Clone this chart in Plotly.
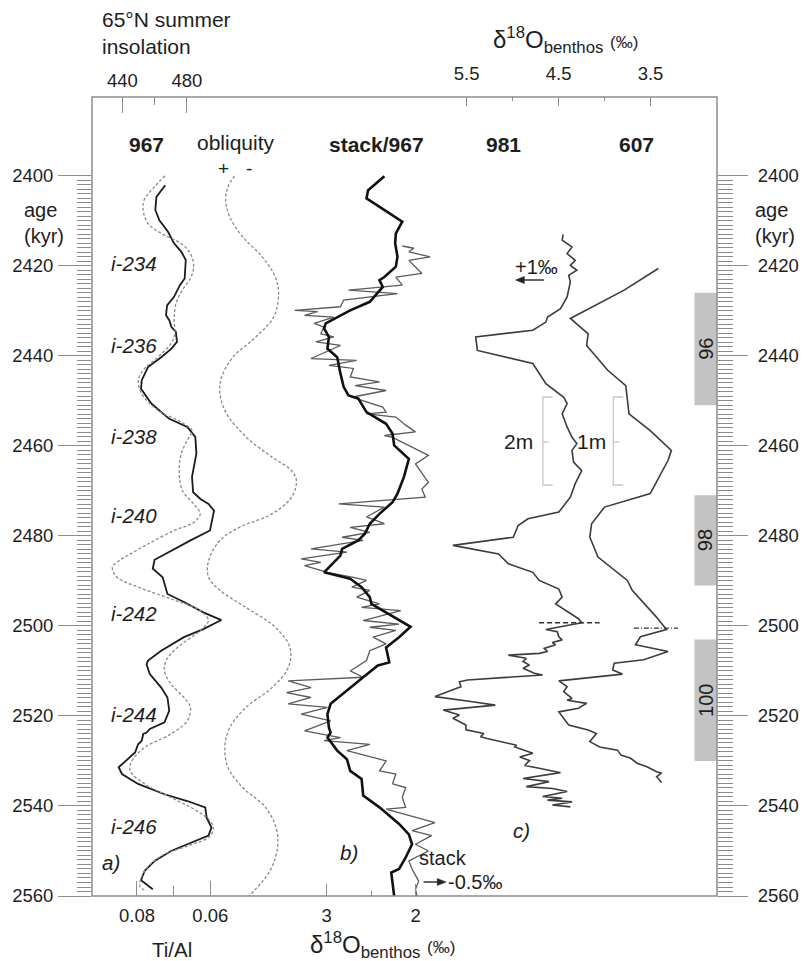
import plotly.graph_objects as go

# ---------------- data ----------------
# (a) ODP 967 Ti/Al (black) vs age (kyr)
tial_age = [2402.1, 2404.7, 2407.6, 2409.9, 2412.5, 2415.0, 2416.9, 2418.7, 2422.8, 2424.3,
            2426.9, 2428.8, 2431.0, 2432.1, 2433.6, 2434.7, 2436.9, 2438.4, 2440.3, 2442.5,
            2445.4, 2447.3, 2450.6, 2454.0, 2455.8, 2458.0, 2461.7, 2464.7, 2466.9, 2470.3,
            2471.8, 2472.9, 2474.4, 2478.8, 2481.0, 2485.3, 2487.3, 2489.2, 2492.9, 2494.7,
            2497.0, 2498.7, 2500.7, 2502.5, 2505.5, 2507.7, 2508.5, 2510.7, 2513.7, 2515.9,
            2518.8, 2521.4, 2522.9, 2523.7, 2524.0, 2525.5, 2526.3, 2528.1, 2530.0, 2531.4,
            2532.9, 2535.1, 2537.4, 2538.9, 2540.3, 2542.6, 2544.8, 2546.6, 2548.5, 2550.0,
            2552.2, 2554.4, 2555.2, 2556.5, 2558.5]
tial_val = [0.0723, 0.0747, 0.0750, 0.0739, 0.0715, 0.0699, 0.0679, 0.0667, 0.0670, 0.0683,
            0.0699, 0.0718, 0.0721, 0.0712, 0.0706, 0.0694, 0.0691, 0.0706, 0.0734, 0.0770,
            0.0787, 0.0789, 0.0761, 0.0712, 0.0663, 0.0641, 0.0638, 0.0645, 0.0650, 0.0647,
            0.0627, 0.0605, 0.0590, 0.0601, 0.0654, 0.0752, 0.0757, 0.0730, 0.0717, 0.0672,
            0.0619, 0.0570, 0.0619, 0.0672, 0.0734, 0.0770, 0.0774, 0.0765, 0.0734, 0.0717,
            0.0712, 0.0725, 0.0765, 0.0774, 0.0783, 0.0787, 0.0797, 0.0805, 0.0832, 0.0850,
            0.0841, 0.0797, 0.0725, 0.0663, 0.0614, 0.0610, 0.0597, 0.0605, 0.0663, 0.0707,
            0.0752, 0.0779, 0.0783, 0.0789, 0.0757]

# (a) 65N summer insolation (W/m2)
ins_age = [2400.0, 2402.4, 2405.4, 2407.6, 2410.6, 2412.8, 2415.0, 2417.3, 2420.2, 2422.8,
           2425.4, 2428.4, 2432.1, 2435.1, 2437.3, 2440.3, 2443.2, 2445.4, 2448.4, 2452.1,
           2454.7, 2456.6, 2458.8, 2461.7, 2465.5, 2469.9, 2472.9, 2475.1, 2477.0, 2478.8,
           2481.8, 2484.0, 2485.5, 2487.0, 2489.2, 2491.4, 2494.0, 2496.6, 2498.8, 2501.0,
           2504.8, 2507.7, 2510.0, 2512.9, 2515.9, 2518.1, 2521.1, 2524.0, 2527.0, 2530.0,
           2532.2, 2535.1, 2538.1, 2541.1, 2543.3, 2545.2, 2547.0, 2548.9, 2551.1, 2554.4,
           2557.8, 2558.9]
ins_val = [466.5, 460.0, 453.5, 452.9, 455.9, 464.1, 476.2, 482.2, 484.2, 482.2,
           477.2, 473.2, 472.1, 472.5, 470.1, 462.0, 452.9, 449.9, 451.9, 462.0,
           476.2, 483.2, 480.2, 476.5, 475.2, 477.2, 484.2, 488.3, 484.2, 472.1,
           455.9, 445.0, 438.0, 433.8, 436.8, 449.9, 470.1, 488.3, 493.3, 488.3,
           474.1, 467.1, 466.1, 470.1, 478.2, 482.2, 480.2, 470.1, 453.9, 445.9,
           444.8, 453.9, 470.1, 486.2, 494.4, 496.4, 493.3, 480.2, 464.1, 453.9,
           450.9, 455.0]

# (a) obliquity (degrees)
obl_age = [2400.0, 2402.4, 2405.4, 2409.1, 2413.6, 2418.0, 2422.5, 2426.2, 2431.4, 2435.8,
           2440.3, 2444.7, 2448.4, 2452.8, 2458.0, 2462.5, 2465.5, 2467.7, 2471.4, 2475.1,
           2478.1, 2481.0, 2485.5, 2489.2, 2492.1, 2495.9, 2500.3, 2504.8, 2509.2, 2513.7,
           2518.1, 2522.6, 2527.0, 2531.5, 2535.9, 2540.3, 2545.5, 2550.0, 2554.4, 2560.0]
obl_val = [23.82, 23.98, 24.04, 23.94, 23.62, 23.14, 22.82, 22.74, 22.86, 23.30,
           23.86, 24.14, 24.18, 24.02, 23.54, 22.90, 22.42, 22.30, 22.42, 22.90,
           23.70, 24.18, 24.46, 24.46, 24.18, 23.54, 22.82, 22.46, 22.50, 22.90,
           23.54, 23.94, 24.06, 23.98, 23.62, 23.06, 22.78, 22.78, 22.95, 23.46]

# (b) benthic d18O stack (thick black)
stack_age = [2400.1, 2403.2, 2405.0, 2407.3, 2410.2, 2412.8, 2415.0, 2418.0, 2420.2, 2422.5,
             2423.2, 2424.7, 2428.0, 2429.9, 2431.4, 2432.8, 2433.9, 2435.8, 2438.4, 2440.3,
             2443.9, 2446.9, 2448.8, 2449.5, 2452.5, 2455.1, 2457.3, 2459.9, 2462.9, 2466.9,
             2470.6, 2472.5, 2475.1, 2477.3, 2479.5, 2481.0, 2482.9, 2484.4, 2488.1, 2489.5,
             2491.4, 2493.6, 2495.1, 2497.0, 2500.2, 2502.5, 2504.8, 2508.1, 2508.8, 2511.4,
             2514.4, 2517.3, 2519.6, 2522.6, 2523.7, 2524.8, 2527.7, 2529.6, 2532.2, 2534.0,
             2537.7, 2540.3, 2544.0, 2546.3, 2548.5, 2551.5, 2554.0, 2554.8, 2560.0]
stack_val = [2.352, 2.535, 2.553, 2.370, 2.151, 2.223, 2.231, 2.205, 2.223, 2.352,
             2.407, 2.370, 2.516, 2.736, 2.882, 3.011, 3.030, 2.975, 2.992, 2.882,
             2.846, 2.810, 2.755, 2.645, 2.553, 2.333, 2.260, 2.242, 2.077, 2.132,
             2.205, 2.260, 2.407, 2.516, 2.571, 2.645, 2.827, 2.846, 3.030, 2.736,
             2.608, 2.516, 2.498, 2.333, 2.058, 2.187, 2.333, 2.297, 2.425, 2.590,
             2.773, 2.956, 2.992, 2.975, 2.956, 2.992, 2.882, 2.773, 2.736, 2.608,
             2.590, 2.407, 2.187, 2.077, 2.041, 2.114, 2.187, 2.275, 2.242]

# (b) ODP 967 benthic d18O (grey)
s967_age = [2415.6, 2416.1, 2416.9, 2418.0, 2418.8, 2421.7, 2422.5, 2424.3, 2425.4, 2426.2,
            2427.6, 2429.1, 2429.9, 2430.2, 2431.0, 2431.4, 2432.8, 2433.6, 2435.1, 2435.8,
            2436.9, 2437.7, 2440.6, 2441.0, 2442.1, 2442.8, 2444.7, 2445.8, 2446.6, 2447.7,
            2449.2, 2451.4, 2452.5, 2452.9, 2453.6, 2455.4, 2456.9, 2457.7, 2458.1, 2462.1,
            2464.0, 2468.1, 2469.6, 2471.4, 2472.9, 2473.6, 2475.8, 2477.3, 2478.1, 2479.2,
            2480.3, 2481.0, 2482.9, 2483.6, 2485.1, 2485.9, 2486.6, 2488.1, 2489.2, 2489.9,
            2491.4, 2492.1, 2493.6, 2495.1, 2495.9, 2496.6, 2498.8, 2499.6, 2500.3, 2501.0,
            2502.5, 2504.0, 2505.5, 2507.7, 2510.0, 2511.4, 2512.2, 2513.7, 2514.8, 2515.9,
            2517.3, 2518.1, 2519.6, 2521.1, 2523.3, 2524.8, 2525.5, 2526.3, 2527.7, 2530.0,
            2532.2, 2532.9, 2535.1, 2535.9, 2538.1, 2540.3, 2540.7, 2543.7, 2545.5, 2546.6,
            2548.5, 2550.0, 2552.2, 2554.0, 2556.7, 2558.5, 2560.0]
s967_val = [2.151, 2.022, 2.077, 1.838, 2.077, 1.931, 2.223, 2.151, 2.755, 2.205,
            2.810, 2.846, 3.359, 3.102, 3.249, 2.920, 3.140, 3.030, 3.066, 2.920,
            3.121, 2.846, 3.176, 2.663, 2.975, 2.700, 2.736, 2.407, 2.681, 2.333,
            2.718, 2.370, 2.333, 2.553, 2.223, 2.113, 2.003, 2.352, 2.260, 1.857,
            2.003, 1.857, 1.931, 1.893, 2.865, 2.352, 2.553, 2.352, 2.736, 2.516,
            2.827, 2.590, 3.176, 2.773, 3.286, 3.066, 3.249, 2.992, 2.700, 2.553,
            2.718, 2.516, 2.663, 2.407, 2.608, 2.168, 2.590, 2.187, 2.516, 2.223,
            2.480, 2.333, 2.516, 2.553, 2.736, 2.590, 3.432, 3.176, 3.451, 3.176,
            3.432, 2.992, 3.286, 2.956, 3.249, 2.846, 3.030, 2.516, 2.773, 2.333,
            2.407, 2.223, 2.260, 2.113, 2.151, 2.113, 2.333, 1.784, 2.041, 1.821,
            2.003, 1.857, 2.077, 2.041, 1.967, 2.003, 1.986]

# (c) ODP 981 benthic d18O
c981_age = [2413.0, 2414.3, 2415.8, 2417.3, 2418.8, 2419.9, 2421.0, 2422.1, 2423.6, 2426.9,
            2429.5, 2431.4, 2432.5, 2434.3, 2435.8, 2438.8, 2441.7, 2446.2, 2449.2, 2450.6,
            2452.9, 2455.8, 2458.1, 2459.5, 2461.0, 2463.6, 2465.5, 2468.4, 2471.4, 2473.6,
            2474.7, 2476.2, 2477.7, 2480.3, 2482.1, 2484.0, 2486.2, 2488.1, 2489.9, 2491.8,
            2493.6, 2495.1, 2498.4, 2499.3, 2500.8, 2501.3, 2502.4, 2503.1, 2503.7, 2504.2,
            2505.0, 2505.7, 2506.1, 2506.5, 2507.2, 2507.9, 2508.7, 2509.4, 2510.5, 2510.9,
            2512.0, 2512.4, 2513.5, 2513.9, 2515.7, 2516.8, 2517.6, 2518.7, 2519.8, 2520.5,
            2522.0, 2523.1, 2523.9, 2524.6, 2525.0, 2526.5, 2526.9, 2528.3, 2529.1, 2529.9,
            2531.0, 2531.6, 2532.6, 2533.9, 2534.6, 2535.7, 2536.1, 2536.8, 2537.9, 2538.3,
            2538.7, 2539.1, 2539.8, 2540.2]
c981_val = [4.450, 4.461, 4.354, 4.407, 4.319, 4.372, 4.301, 4.390, 4.372, 4.407,
            4.479, 4.620, 4.638, 4.780, 5.401, 5.383, 4.780, 4.638, 4.444, 4.407,
            4.461, 4.407, 4.354, 4.301, 4.354, 4.337, 4.248, 4.319, 4.372, 4.461,
            4.497, 4.833, 4.939, 4.993, 5.649, 5.152, 5.046, 4.780, 4.710, 4.497,
            4.461, 4.532, 4.284, 4.248, 4.638, 4.514, 4.497, 4.461, 4.567, 4.532,
            4.656, 4.620, 4.710, 5.046, 4.851, 4.886, 4.816, 4.886, 4.763, 4.673,
            5.489, 5.578, 5.561, 5.614, 5.844, 5.454, 5.188, 5.755, 5.578, 5.649,
            5.507, 5.507, 5.312, 5.348, 5.277, 4.957, 4.976, 4.780, 4.922, 4.816,
            4.869, 4.710, 4.479, 4.886, 4.603, 4.851, 4.567, 4.407, 4.673, 4.461,
            4.620, 4.354, 4.567, 4.372]

# (c) DSDP 607 benthic d18O
c607_age = [2420.6, 2425.4, 2431.7, 2435.1, 2437.7, 2443.2, 2446.6, 2452.9, 2456.6, 2461.0,
            2463.2, 2470.6, 2473.6, 2477.3, 2480.3, 2484.7, 2489.9, 2492.1, 2498.1, 2500.8,
            2502.4, 2504.2, 2505.7, 2507.5, 2508.3, 2509.8, 2510.7, 2512.2, 2513.5, 2514.6,
            2516.1, 2516.5, 2517.2, 2518.3, 2519.1, 2520.9, 2522.0, 2523.1, 2523.9, 2525.7,
            2526.5, 2526.9, 2527.6, 2528.7, 2529.4, 2530.5, 2531.3, 2532.4, 2532.7, 2533.5,
            2534.8]
c607_val = [3.415, 3.787, 4.372, 4.178, 4.195, 3.965, 3.769, 3.734, 3.503, 3.273,
            3.309, 3.503, 4.000, 4.141, 4.160, 4.071, 3.752, 3.699, 3.433, 3.327,
            3.610, 3.663, 3.309, 3.574, 3.894, 3.912, 3.805, 4.497, 4.407, 4.444,
            4.354, 4.407, 4.195, 4.284, 4.497, 4.426, 4.390, 4.178, 4.088, 4.160,
            4.088, 4.053, 3.859, 3.822, 3.716, 3.646, 3.539, 3.433, 3.380, 3.433,
            3.380]

# marine isotope stages (grey bars)
mis_labels = ["96", "98", "100"]
mis_start = [2426, 2471, 2503]
mis_end = [2451, 2491, 2530]

# insolation-cycle labels
i_labels = ["i-234", "i-236", "i-238", "i-240", "i-242", "i-244", "i-246"]
i_ages = [2419.5, 2437.7, 2458.0, 2475.5, 2497.3, 2519.6, 2544.5]

age_ticks = [2400, 2420, 2440, 2460, 2480, 2500, 2520, 2540, 2560]
age_minor = [a for a in range(2401, 2560) if a % 20 != 0]
tial_ticks = [0.08, 0.06]
ins_ticks = [440, 480]
stack_ticks = [3, 2]
top_d18o_ticks = [5.5, 4.5, 3.5]

# ---------------- layout helpers ----------------
W, H = 811, 961
L, R, T, B = 86, 725, 97, 896


def px(x):
    return (x - L) / (R - L)


def py(y):
    return (B - y) / (B - T)


FONT = "Liberation Sans, Arial, Helvetica, sans-serif"
TXT = "#1e1e1e"
AX = "#8c8c8c"
DASHC = "#8a8a8a"

fig = go.Figure()

fig.add_trace(go.Scatter(x=ins_val, y=ins_age, xaxis="x2", yaxis="y", mode="lines",
                         line=dict(color=DASHC, width=1.3, dash="3px,2px", shape="spline"),
                         hoverinfo="skip", showlegend=False))
fig.add_trace(go.Scatter(x=obl_val, y=obl_age, xaxis="x5", yaxis="y", mode="lines",
                         line=dict(color=DASHC, width=1.3, dash="3px,2px", shape="spline"),
                         hoverinfo="skip", showlegend=False))
fig.add_trace(go.Scatter(x=tial_val, y=tial_age, xaxis="x", yaxis="y", mode="lines",
                         line=dict(color="#1c1c1c", width=1.8),
                         hoverinfo="skip", showlegend=False))
fig.add_trace(go.Scatter(x=s967_val, y=s967_age, xaxis="x3", yaxis="y", mode="lines",
                         line=dict(color="#5a5a5a", width=1.3),
                         hoverinfo="skip", showlegend=False))
fig.add_trace(go.Scatter(x=stack_val, y=stack_age, xaxis="x3", yaxis="y", mode="lines",
                         line=dict(color="#111111", width=2.6),
                         hoverinfo="skip", showlegend=False))
fig.add_trace(go.Scatter(x=c981_val, y=c981_age, xaxis="x4", yaxis="y", mode="lines",
                         line=dict(color="#3c3c3c", width=1.6),
                         hoverinfo="skip", showlegend=False))
fig.add_trace(go.Scatter(x=c607_val, y=c607_age, xaxis="x4", yaxis="y", mode="lines",
                         line=dict(color="#3c3c3c", width=1.6),
                         hoverinfo="skip", showlegend=False))
fig.add_trace(go.Scatter(x=[0.07], y=[2500], xaxis="x", yaxis="y2", mode="markers",
                         marker=dict(size=1, opacity=0), hoverinfo="skip", showlegend=False))

tickfont = dict(family=FONT, size=18.5, color=TXT)

common_x = dict(showgrid=False, zeroline=False, showline=False, domain=[0, 1],
                tickfont=tickfont, tickcolor=AX, tickwidth=1.3)

fig.update_layout(
    width=W, height=H,
    margin=dict(l=L, r=W - R, t=T, b=H - B, pad=0),
    paper_bgcolor="white", plot_bgcolor="white",
    font=dict(family=FONT, size=18, color=TXT),
    xaxis=dict(**common_x, range=[0.092267, -0.07813], side="bottom", anchor="y",
               tickmode="array", tickvals=tial_ticks, ticktext=["0.08", "0.06"],
               ticks="inside", ticklen=15, ticklabelstandoff=6,
               minor=dict(tickmode="array", tickvals=[0.07], ticks="inside", ticklen=10,
                          tickcolor=AX, tickwidth=1.3)),
    xaxis2=dict(**common_x, range=[421.2, 808.5], side="top", anchor="y", overlaying="x",
                tickmode="array", tickvals=ins_ticks, ticktext=["440", "480"],
                ticks="inside", ticklen=16, ticklabelstandoff=5,
                minor=dict(tickmode="array", tickvals=[460], ticks="inside", ticklen=8,
                           tickcolor=AX, tickwidth=1.3)),
    xaxis3=dict(**common_x, range=[5.637, -1.385], side="bottom", anchor="y", overlaying="x",
                tickmode="array", tickvals=stack_ticks, ticktext=["3", "2"],
                ticks="inside", ticklen=12, ticklabelstandoff=6,
                minor=dict(tickmode="array", tickvals=[2.5], ticks="inside", ticklen=5,
                           tickcolor=AX, tickwidth=1.3)),
    xaxis4=dict(**common_x, range=[9.574, 2.777], side="top", anchor="y", overlaying="x",
                tickmode="array", tickvals=top_d18o_ticks, ticktext=["5.5", "4.5", "3.5"],
                ticks="inside", ticklen=9, ticklabelstandoff=12,
                minor=dict(tickmode="array", tickvals=[5.0, 4.0], ticks="inside", ticklen=4,
                           tickcolor=AX, tickwidth=1.3)),
    xaxis5=dict(range=[27.325, 11.964], overlaying="x", visible=False, domain=[0, 1]),
    yaxis=dict(range=[2560, 2382.5], side="left", anchor="x", showgrid=False, zeroline=False,
               showline=False, tickmode="array", tickvals=age_ticks,
               ticks="outside", ticklen=33, tickcolor=AX, tickwidth=1.3, tickfont=tickfont,
               ticklabelstandoff=1,
               minor=dict(tickmode="array", tickvals=age_minor, ticks="outside", ticklen=14,
                          tickcolor=AX, tickwidth=1.1)),
    yaxis2=dict(range=[2560, 2382.5], side="right", anchor="x", overlaying="y",
                showgrid=False, zeroline=False, showline=False, tickmode="array",
                tickvals=age_ticks, ticks="outside", ticklen=30, tickcolor=AX, tickwidth=1.3,
                tickfont=tickfont, ticklabelstandoff=6,
                minor=dict(tickmode="array", tickvals=age_minor, ticks="outside", ticklen=15,
                           tickcolor=AX, tickwidth=1.1)),
)

shapes = []
shapes.append(dict(type="rect", xref="paper", yref="paper", x0=0, x1=1, y0=0, y1=1,
                   line=dict(color=AX, width=1.5), layer="above"))
for s, e in zip(mis_start, mis_end):
    shapes.append(dict(type="rect", xref="paper", yref="y", x0=px(702), x1=1, y0=s, y1=e,
                       fillcolor="#c3c3c3", line=dict(width=0), layer="below"))
# tie lines at ~2500 kyr
shapes.append(dict(type="line", xref="x4", yref="y", x0=4.713, x1=4.053, y0=2499.3, y1=2499.3,
                   line=dict(color="#333333", width=1.4, dash="5px,3px")))
shapes.append(dict(type="line", xref="x4", yref="y", x0=3.681, x1=3.202, y0=2500.5, y1=2500.5,
                   line=dict(color="#333333", width=1.4, dash="5px,2px,1px,2px")))
# depth scale brackets
BR = "#c8c8c8"
for xb in (547, 619):
    shapes.append(dict(type="path", xref="paper", yref="paper",
                       path=f"M {px(xb + 10)} {py(397)} L {px(xb)} {py(397)} L {px(xb)} {py(485)} L {px(xb + 10)} {py(485)}",
                       line=dict(color=BR, width=1.3)))
    shapes.append(dict(type="line", xref="paper", yref="paper", x0=px(xb), x1=px(xb + 6),
                       y0=py(442), y1=py(442), line=dict(color=BR, width=1.3)))
# offset arrows (+1 permil to the left, -0.5 permil to the right)
ARC = "#222222"
shapes.append(dict(type="line", xref="paper", yref="paper", x0=px(548), x1=px(525),
                   y0=py(280), y1=py(280), line=dict(color=ARC, width=1.4)))
shapes.append(dict(type="path", xref="paper", yref="paper",
                   path=f"M {px(519)} {py(280)} L {px(528)} {py(276.5)} L {px(528)} {py(283.5)} Z",
                   fillcolor=ARC, line=dict(color=ARC, width=0.5)))
shapes.append(dict(type="line", xref="paper", yref="paper", x0=px(425), x1=px(442),
                   y0=py(882), y1=py(882), line=dict(color=ARC, width=1.4)))
shapes.append(dict(type="path", xref="paper", yref="paper",
                   path=f"M {px(448)} {py(882)} L {px(439)} {py(878.5)} L {px(439)} {py(885.5)} Z",
                   fillcolor=ARC, line=dict(color=ARC, width=0.5)))
fig.update_layout(shapes=shapes)

ann = []


def text(x, y, s, size=20.5, bold=False, italic=False, xanchor="center", yanchor="middle",
         align="center", angle=0):
    if bold:
        s = f"<b>{s}</b>"
    if italic:
        s = f"<i>{s}</i>"
    ann.append(dict(x=px(x), y=py(y), xref="paper", yref="paper", text=s, showarrow=False,
                    xanchor=xanchor, yanchor=yanchor, align=align, textangle=angle,
                    font=dict(family=FONT, size=size, color=TXT)))


D18O = "δ<sup>18</sup>O<sub>benthos</sub> <span style='font-size:17px'>(‰)</span>"
text(94, 33, "65°N summer<br>insolation", xanchor="left", align="left", size=21)
text(570, 40, D18O, size=24)
text(168, 950, "Ti/Al", size=20.5)
text(383, 945, D18O, size=24)
text(14, 223, "age<br>(kyr)", xanchor="left", align="left", size=20)
text(762, 223, "age<br>(kyr)", xanchor="left", align="left", size=20)

text(142, 145, "967", bold=True, size=21)
text(233, 143, "obliquity", size=21)
text(220, 168, "+", size=19)
text(247, 168, "-", size=19)
text(377, 145, "stack/967", bold=True, size=21)
text(507, 145, "981", bold=True, size=21)
text(643, 145, "607", bold=True, size=21)

text(105, 862, "a)", italic=True)
text(349, 852, "b)", italic=True)
text(525, 830, "c)", italic=True)

text(539, 441, "2m", xanchor="right", size=21)
text(597, 441, "1m", size=21)

text(540, 267, "+1‰", size=20)
text(445, 858, "stack", size=20)
text(448, 882, "-0.5‰", xanchor="left", size=20)

for lab, a in zip(i_labels, i_ages):
    ann.append(dict(x=px(128.5), y=a, xref="paper", yref="y", text=f"<i>{lab}</i>",
                    xanchor="center", yanchor="middle", showarrow=False,
                    font=dict(family=FONT, size=20.5, color=TXT)))

for lab, s, e in zip(mis_labels, mis_start, mis_end):
    ann.append(dict(x=px(713.5), y=(s + e) / 2, xref="paper", yref="y", text=lab,
                    xanchor="center", yanchor="middle", showarrow=False, textangle=-90,
                    font=dict(family=FONT, size=20, color=TXT)))

fig.update_layout(annotations=ann)

fig.write_html("out.html")
